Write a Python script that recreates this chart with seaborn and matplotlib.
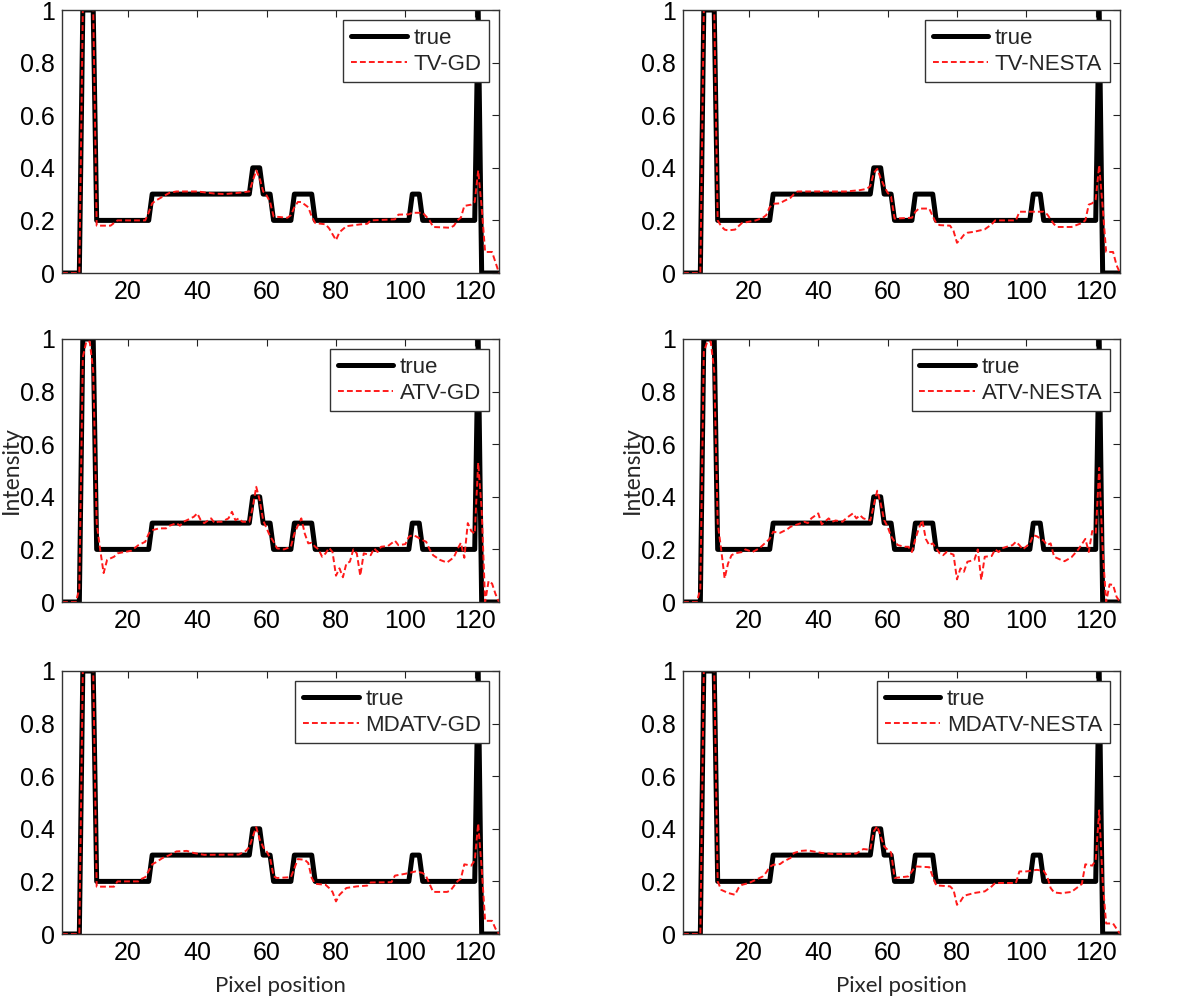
import matplotlib
matplotlib.use("Agg")
import matplotlib.pyplot as plt
import seaborn as sns
import pandas as pd

# ---------------- data ----------------
X_TICKS = [20, 40, 60, 80, 100, 120]
Y_TICKS = [0, 0.2, 0.4, 0.6, 0.8, 1]
Y_TICK_LABELS = ["0", "0.2", "0.4", "0.6", "0.8", "1"]

TRUE_POINTS = [(1, 0), (6, 0), (7, 1), (10, 1), (11, 0.2), (26, 0.2), (27, 0.3), (55, 0.3),
               (56, 0.4), (58, 0.4), (59, 0.3), (61, 0.3), (62, 0.2), (67, 0.2), (68, 0.3),
               (73, 0.3), (74, 0.2), (101, 0.2), (102, 0.3), (104, 0.3), (105, 0.2),
               (120, 0.2), (121, 1), (122, 0), (127, 0)]

TV_GD = [(1, 0), (6, 0), (7, 1), (10, 1), (11, 0.18), (15, 0.18), (17, 0.2), (25, 0.2), (26, 0.23),
         (27, 0.265), (28, 0.275), (30, 0.29), (32, 0.305), (34, 0.31), (40, 0.31), (45, 0.302),
         (48, 0.3), (52, 0.305), (55, 0.31), (56, 0.35), (57, 0.39), (58, 0.36), (59, 0.31),
         (60, 0.295), (61, 0.27), (62, 0.215), (66, 0.21), (67, 0.22), (68, 0.25), (69, 0.27),
         (70, 0.27), (71, 0.26), (72, 0.25), (73, 0.215), (74, 0.19), (77, 0.185), (78, 0.17),
         (80, 0.125), (81, 0.155), (83, 0.178), (87, 0.185), (89, 0.187), (90, 0.2), (97, 0.204),
         (98, 0.222), (101, 0.223), (102, 0.229), (105, 0.229), (106, 0.215), (107, 0.2),
         (108, 0.175), (113, 0.172), (114, 0.18), (115, 0.2), (116, 0.21), (117, 0.255),
         (119, 0.26), (120, 0.27), (121, 0.39), (122, 0.25), (123, 0.08), (125, 0.08),
         (126, 0.04), (127, 0)]

TV_NESTA = [(1, 0), (6, 0), (7, 1), (10, 1), (11, 0.2), (12, 0.178), (13, 0.165), (14, 0.162),
            (16, 0.165), (17, 0.178), (18, 0.19), (20, 0.195), (22, 0.2), (24, 0.21), (25, 0.22),
            (26, 0.25), (27, 0.263), (29, 0.265), (30, 0.273), (32, 0.286), (33, 0.3), (34, 0.31),
            (48, 0.31), (52, 0.315), (54, 0.32), (55, 0.33), (56, 0.38), (57, 0.396), (58, 0.36),
            (59, 0.33), (60, 0.305), (61, 0.29), (62, 0.207), (67, 0.21), (68, 0.233), (69, 0.245),
            (72, 0.245), (73, 0.216), (74, 0.19), (75, 0.182), (78, 0.18), (79, 0.16), (80, 0.115),
            (81, 0.128), (82, 0.145), (83, 0.153), (85, 0.157), (88, 0.166), (90, 0.185),
            (91, 0.2), (97, 0.2), (98, 0.233), (105, 0.233), (106, 0.223), (107, 0.204),
            (108, 0.185), (109, 0.175), (113, 0.175), (115, 0.185), (116, 0.19), (117, 0.2),
            (118, 0.26), (119, 0.265), (120, 0.28), (121, 0.41), (122, 0.25), (123, 0.08),
            (125, 0.08), (126, 0.03), (127, 0)]

ATV_GD = [(1, 0), (5, 0), (6, 0.05), (7, 0.93), (8, 0.99), (9, 0.99), (10, 0.88), (11, 0.3),
          (12, 0.2), (13, 0.11), (14, 0.16), (15, 0.166), (16, 0.172), (17, 0.185), (19, 0.19),
          (21, 0.195), (23, 0.216), (25, 0.229), (26, 0.26), (27, 0.273), (29, 0.28), (31, 0.28),
          (32, 0.29), (34, 0.3), (35, 0.29), (36, 0.305), (37, 0.311), (39, 0.324), (40, 0.337),
          (41, 0.311), (42, 0.3), (44, 0.318), (45, 0.3), (46, 0.305), (47, 0.305), (49, 0.318),
          (50, 0.343), (51, 0.311), (52, 0.318), (53, 0.305), (55, 0.305), (56, 0.36),
          (57, 0.438), (58, 0.387), (59, 0.31), (60, 0.28), (61, 0.25), (62, 0.229), (63, 0.204),
          (65, 0.2), (66, 0.205), (67, 0.21), (68, 0.26), (69, 0.29), (70, 0.318), (71, 0.26),
          (72, 0.223), (73, 0.225), (74, 0.21), (75, 0.2), (76, 0.172), (77, 0.185), (78, 0.206),
          (79, 0.19), (80, 0.1), (81, 0.128), (82, 0.094), (83, 0.147), (84, 0.153), (85, 0.2),
          (86, 0.185), (87, 0.1), (88, 0.185), (90, 0.178), (91, 0.204), (92, 0.19), (93, 0.21),
          (95, 0.213), (96, 0.223), (97, 0.233), (98, 0.216), (100, 0.22), (101, 0.248),
          (102, 0.254), (103, 0.25), (105, 0.235), (106, 0.229), (107, 0.2), (108, 0.178),
          (110, 0.16), (112, 0.15), (114, 0.17), (115, 0.2), (116, 0.225), (117, 0.168),
          (118, 0.3), (119, 0.27), (120, 0.26), (121, 0.53), (122, 0.35), (123, 0.0),
          (124, 0.08), (125, 0.07), (126, 0.03), (127, 0)]

ATV_NESTA = [(1, 0), (5, 0), (6, 0.05), (7, 0.95), (8, 0.99), (9, 0.99), (10, 0.88), (11, 0.3),
             (12, 0.2), (13, 0.09), (14, 0.147), (15, 0.178), (16, 0.185), (18, 0.19), (19, 0.2),
             (21, 0.19), (23, 0.204), (24, 0.216), (26, 0.24), (27, 0.267), (29, 0.263),
             (31, 0.276), (32, 0.286), (34, 0.295), (36, 0.305), (37, 0.3), (38, 0.318),
             (40, 0.337), (41, 0.295), (43, 0.318), (44, 0.305), (45, 0.31), (47, 0.305),
             (48, 0.318), (50, 0.337), (51, 0.318), (52, 0.33), (53, 0.318), (55, 0.31),
             (56, 0.368), (57, 0.423), (58, 0.375), (59, 0.311), (60, 0.286), (61, 0.25),
             (62, 0.229), (63, 0.216), (65, 0.21), (66, 0.21), (67, 0.19), (68, 0.24), (69, 0.28),
             (70, 0.311), (71, 0.24), (72, 0.216), (73, 0.223), (75, 0.185), (76, 0.178),
             (77, 0.19), (79, 0.18), (80, 0.086), (81, 0.128), (82, 0.115), (83, 0.153),
             (85, 0.16), (86, 0.2), (87, 0.084), (88, 0.172), (90, 0.175), (91, 0.2), (92, 0.19),
             (93, 0.204), (95, 0.213), (96, 0.216), (97, 0.229), (98, 0.216), (99, 0.2),
             (101, 0.223), (102, 0.254), (103, 0.25), (105, 0.233), (106, 0.216), (107, 0.223),
             (108, 0.172), (110, 0.16), (111, 0.155), (113, 0.17), (115, 0.2), (117, 0.24),
             (118, 0.19), (119, 0.27), (120, 0.26), (121, 0.51), (122, 0.2), (123, 0.0),
             (124, 0.067), (125, 0.065), (126, 0.02), (127, 0)]

MDATV_GD = [(1, 0), (6, 0), (7, 1), (10, 1), (11, 0.18), (16, 0.18), (17, 0.2), (23, 0.2),
            (24, 0.21), (25, 0.216), (26, 0.24), (27, 0.265), (28, 0.272), (30, 0.289), (32, 0.3),
            (34, 0.314), (37, 0.316), (39, 0.308), (42, 0.301), (52, 0.302), (54, 0.316),
            (55, 0.33), (56, 0.37), (57, 0.406), (58, 0.36), (59, 0.33), (60, 0.314), (61, 0.289),
            (62, 0.219), (63, 0.213), (67, 0.216), (68, 0.25), (69, 0.285), (71, 0.282), (72, 0.27),
            (73, 0.213), (74, 0.191), (77, 0.187), (78, 0.175), (79, 0.16), (80, 0.124),
            (81, 0.149), (83, 0.175), (86, 0.181), (89, 0.184), (90, 0.196), (96, 0.197),
            (97, 0.222), (100, 0.229), (103, 0.238), (105, 0.232), (106, 0.219), (107, 0.19),
            (108, 0.16), (112, 0.16), (113, 0.165), (115, 0.2), (116, 0.21), (117, 0.265),
            (119, 0.26), (120, 0.28), (121, 0.42), (122, 0.25), (123, 0.05), (125, 0.05),
            (126, 0.02), (127, 0)]

MDATV_NESTA = [(1, 0), (6, 0), (7, 1), (10, 1), (11, 0.2), (12, 0.168), (14, 0.156), (16, 0.149),
               (17, 0.175), (18, 0.187), (20, 0.194), (22, 0.206), (24, 0.219), (25, 0.234),
               (26, 0.255), (27, 0.263), (29, 0.266), (30, 0.276), (32, 0.289), (33, 0.308),
               (35, 0.316), (37, 0.318), (41, 0.308), (44, 0.304), (48, 0.304), (51, 0.306),
               (53, 0.323), (55, 0.32), (56, 0.39), (57, 0.41), (58, 0.371), (59, 0.333),
               (60, 0.32), (61, 0.31), (62, 0.213), (66, 0.219), (67, 0.238), (68, 0.257),
               (72, 0.254), (73, 0.219), (74, 0.185), (78, 0.181), (79, 0.168), (80, 0.111),
               (81, 0.124), (82, 0.145), (83, 0.149), (85, 0.156), (88, 0.162), (90, 0.181),
               (91, 0.194), (97, 0.194), (98, 0.238), (100, 0.238), (103, 0.244), (105, 0.24),
               (106, 0.219), (107, 0.175), (108, 0.158), (110, 0.155), (113, 0.16), (115, 0.18),
               (116, 0.19), (117, 0.265), (119, 0.26), (120, 0.28), (121, 0.47), (122, 0.2),
               (123, 0.04), (125, 0.04), (126, 0.02), (127, 0)]

PANELS = [("TV-GD", TV_GD), ("TV-NESTA", TV_NESTA),
          ("ATV-GD", ATV_GD), ("ATV-NESTA", ATV_NESTA),
          ("MDATV-GD", MDATV_GD), ("MDATV-NESTA", MDATV_NESTA)]

# ---------------- style ----------------
sns.set_style("white")
plt.rcParams["font.family"] = ["Liberation Sans", "DejaVu Sans"]
plt.rcParams["axes.linewidth"] = 1.0
LABEL_FONT = ["Lato", "DejaVu Sans"]

W, H = 1200, 1006
fig = plt.figure(figsize=(W / 100, H / 100), dpi=100)

col_left = [62, 683]
col_w = 437
row_top = [10, 339, 671]
row_h = 263

true_df = pd.DataFrame(TRUE_POINTS, columns=["x", "y"])

for i, (name, pts) in enumerate(PANELS):
    r, c = divmod(i, 2)
    ax = fig.add_axes([col_left[c] / W, 1 - (row_top[r] + row_h) / H, col_w / W, row_h / H])
    df = pd.DataFrame(pts, columns=["x", "y"])
    sns.lineplot(data=true_df, x="x", y="y", ax=ax, color="black", linewidth=3.6,
                 estimator=None, sort=False, label="true")
    sns.lineplot(data=df, x="x", y="y", ax=ax, color="#ff1a1a", linewidth=1.4,
                 linestyle=(0, (3.0, 1.6)), estimator=None, sort=False, label=name)
    ax.set_xlim(1, 127)
    ax.set_ylim(0, 1)
    ax.set_xticks(X_TICKS)
    ax.set_yticks(Y_TICKS)
    ax.set_yticklabels(Y_TICK_LABELS)
    ax.tick_params(direction="in", top=True, right=True, length=5, width=0.8,
                   labelsize=18, colors="#222222", labelcolor="black", pad=5)
    for sp in ax.spines.values():
        sp.set_color("#333333")
        sp.set_linewidth(1.0)
    ax.set_xlabel("")
    ax.set_ylabel("")
    if r == 1:
        ax.set_ylabel("Intensity", fontsize=16.5, family=LABEL_FONT)
        ax.yaxis.set_label_coords(-0.092, 0.5)
    if r == 2:
        ax.set_xlabel("Pixel position", fontsize=16, family=LABEL_FONT)
        ax.xaxis.set_label_coords(0.5, -0.158)
    leg = ax.legend(loc="upper right", fontsize=16, handlelength=2.5, handletextpad=0.3,
                    borderpad=0.35, labelspacing=0.22, borderaxespad=0.45,
                    fancybox=False, framealpha=1, edgecolor="#333333")
    leg.get_frame().set_linewidth(1.0)

fig.savefig("out.png", dpi=100)
